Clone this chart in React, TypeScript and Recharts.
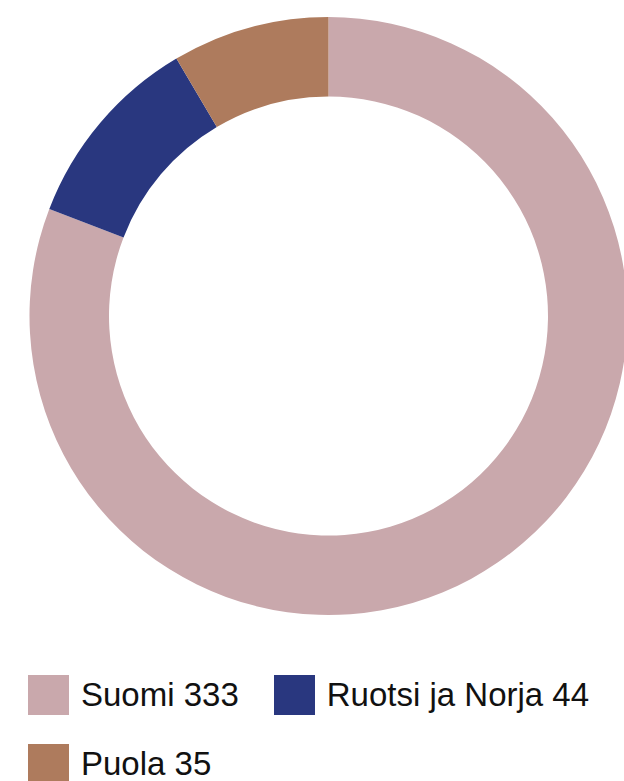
import React from 'react';
import { PieChart, Pie, Cell, Legend } from 'recharts';

const categories = ['Suomi', 'Ruotsi ja Norja', 'Puola'];
const values = [333, 44, 35];
const colors = ['#c9a8ac', '#29377f', '#ae7b5d'];

const data = categories.map((name, i) => ({ name, value: values[i], color: colors[i] }));

const renderLegend = () => (
  <div
    style={{
      display: 'flex',
      flexWrap: 'wrap',
      width: 580,
      rowGap: 29,
      columnGap: 35,
      fontFamily: '"Liberation Sans", Arial, sans-serif',
      fontSize: 33,
      color: '#111',
    }}
  >
    {data.map((d) => (
      <div key={d.name} style={{ display: 'flex', alignItems: 'center', height: 40 }}>
        <div style={{ width: 41, height: 40, background: d.color, marginRight: 12 }} />
        <span style={{ lineHeight: '40px', whiteSpace: 'nowrap' }}>{`${d.name} ${d.value}`}</span>
      </div>
    ))}
  </div>
);

export default function App() {
  return (
    <div style={{ position: 'absolute', left: 0, top: 0, width: 624, height: 781, background: '#fff' }}>
      <PieChart width={624} height={781} margin={{ top: 0, right: 0, bottom: 0, left: 0 }}>
        <Pie
          data={data}
          dataKey="value"
          nameKey="name"
          cx={328.5}
          cy={316}
          innerRadius={219.5}
          outerRadius={299}
          startAngle={90}
          endAngle={-270}
          stroke="none"
          isAnimationActive={false}
        >
          {data.map((d) => (
            <Cell key={d.name} fill={d.color} />
          ))}
        </Pie>
        <Legend
          content={renderLegend}
          wrapperStyle={{ position: 'absolute', left: 28, top: 675, width: 596, bottom: 'auto' }}
        />
      </PieChart>
    </div>
  );
}
